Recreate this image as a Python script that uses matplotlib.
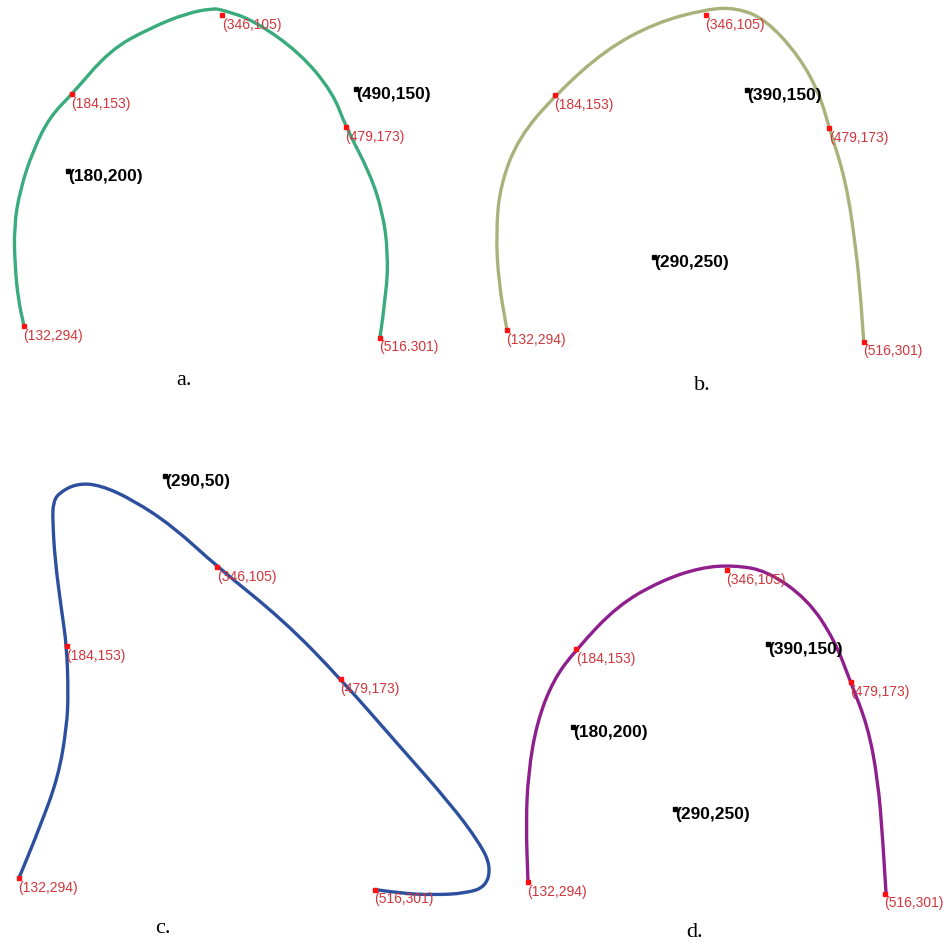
import matplotlib
matplotlib.use('Agg')
import matplotlib.pyplot as plt
from matplotlib.path import Path
from matplotlib.patches import PathPatch

# traced curve points (original image coordinates, y grows downward)
curve_a_x = [132, 125.9, 122.3, 121.2, 127.7, 142, 160, 184, 224.8, 267.9, 307.5, 336, 346,
             379, 429.7, 465.5, 479, 505, 519, 524.7, 523, 516]
curve_a_y = [294, 278.2, 258, 233.7, 211.4, 187, 166.8, 153, 126.3, 113, 104, 101, 102,
             108, 128, 152.5, 173, 201, 225, 249.7, 274, 301]

curve_b_x = [132, 123, 120.1, 124.8, 144.6, 184, 238, 292, 345.9, 378.3, 410.6, 446.7, 468.3,
             479, 497, 507.7, 513, 516]
curve_b_y = [294, 265.6, 235.3, 206.9, 178.6, 153, 125.9, 109.7, 101.6, 100.6, 107.7, 130, 152.3,
             173, 204.9, 245.4, 275.8, 301]

curve_c_x = [132, 154.7, 174.4, 183.5, 185.2, 183.4, 178, 170.8, 168.3, 168.8, 174.4, 194.2,
             219.4, 255.3, 298.5, 346, 417.1, 479, 543, 596.9, 629.3, 641, 635.6, 614,
             578.7, 543, 516]
curve_c_y = [294, 262.8, 232.5, 202.1, 181.8, 152.8, 131.9, 100.8, 76.5, 66.3, 60.3, 54.3,
             55.2, 64.4, 80.6, 105, 137.3, 173, 214.2, 248.6, 273, 287.1, 299.3, 303.3,
             304.3, 303.3, 301]

curve_d_x = [132, 129.8, 132.3, 141.4, 159.3, 184, 227.7, 274.4, 317.5, 353.5, 389.5, 432.6,
             461.3, 479, 497.4, 508.2, 513.6, 517]
curve_d_y = [294, 258.3, 228, 197.6, 171.3, 153, 126.7, 111.6, 103.4, 102, 105.5, 122.7,
             147, 173, 199.6, 232, 268.5, 301]

# data points shown in red
data_x = [132, 184, 346, 479, 516]
data_y = [294, 153, 105, 173, 301]
labels_a = ['(132,294)', '(184,153)', '(346,105)', '(479,173)', '(516.301)']
labels_bcd = ['(132,294)', '(184,153)', '(346,105)', '(479,173)', '(516,301)']

# control points shown in black
ctrl_a_x, ctrl_a_y = [180, 490], [200, 150]
ctrl_b_x, ctrl_b_y = [92, 390, 290], [200, 150, 250]
ctrl_c_x, ctrl_c_y = [290], [50]
ctrl_d_x, ctrl_d_y = [180, 390, 290], [200, 150, 250]

W, H = 944, 946
XLIM = (100, 660)
YLIM = (352, 40)


def make_axes(fig, ox, oy, sx, sy):
    # ox, oy: pixel position of the point (132,294); sx, sy: pixels per unit
    left = ox - (132 - XLIM[0]) * sx
    top = oy - (294 - YLIM[1]) * sy
    w = (XLIM[1] - XLIM[0]) * sx
    h = (YLIM[0] - YLIM[1]) * sy
    ax = fig.add_axes([left / W, 1 - (top + h) / H, w / W, h / H])
    ax.set_xlim(*XLIM)
    ax.set_ylim(*YLIM)
    ax.axis('off')
    return ax


def smooth_path(xs, ys):
    # quadratic bezier through midpoints, traced points used as controls
    pts = list(zip(xs, ys))
    verts = [pts[0], ((pts[0][0] + pts[1][0]) / 2, (pts[0][1] + pts[1][1]) / 2)]
    codes = [Path.MOVETO, Path.LINETO]
    for i in range(1, len(pts) - 1):
        nxt = pts[i + 1]
        mid = ((pts[i][0] + nxt[0]) / 2, (pts[i][1] + nxt[1]) / 2)
        if i == len(pts) - 2:
            mid = nxt
        verts += [pts[i], mid]
        codes += [Path.CURVE3, Path.CURVE3]
    return Path(verts, codes)


def draw_panel(ax, cx, cy, color, labels, kx, ky, caption, cap_xy):
    ax.add_patch(PathPatch(smooth_path(cx, cy), fill=False, edgecolor=color, lw=2.4,
                           capstyle='round', joinstyle='round', zorder=2))
    ax.plot(data_x, data_y, 's', color='#ff1010', ms=3.2, zorder=3)
    for x, y, s in zip(data_x, data_y, labels):
        ax.annotate(s, (x, y), xytext=(-0.5, -2), textcoords='offset points',
                    ha='left', va='top', color='#d0363c', fontsize=10,
                    family='Liberation Sans')
    ax.plot(kx, ky, 's', color='black', ms=2.6, zorder=3)
    for x, y in zip(kx, ky):
        ax.annotate(f'({x},{y})', (x, y), xytext=(0, 1.5), textcoords='offset points',
                    ha='left', va='top', color='black', fontsize=12.5, fontweight='bold',
                    family='Liberation Sans')
    ax.text(cap_xy[0], cap_xy[1], caption, ha='center', va='center', fontsize=16,
            family='Liberation Serif')


fig = plt.figure(figsize=(W / 100, H / 100), dpi=100)

ax_a = make_axes(fig, 24, 326, 0.927, 1.646)
draw_panel(ax_a, curve_a_x, curve_a_y, '#3aab7c', labels_a, ctrl_a_x, ctrl_a_y, 'a.', (304.6, 327.4))

ax_b = make_axes(fig, 507, 330, 0.929, 1.667)
draw_panel(ax_b, curve_b_x, curve_b_y, '#a9b27a', labels_bcd, ctrl_b_x, ctrl_b_y, 'b.', (341.9, 327))

ax_c = make_axes(fig, 19, 878, 0.927, 1.646)
draw_panel(ax_c, curve_c_x, curve_c_y, '#2c4f9e', labels_bcd, ctrl_c_x, ctrl_c_y, 'c.', (287.3, 324.4))

ax_d = make_axes(fig, 528, 882, 0.93, 1.65)
draw_panel(ax_d, curve_d_x, curve_d_y, '#8e1f8c', labels_bcd, ctrl_d_x, ctrl_d_y, 'd.', (311.6, 324.9))

fig.savefig('out.png', dpi=100)
